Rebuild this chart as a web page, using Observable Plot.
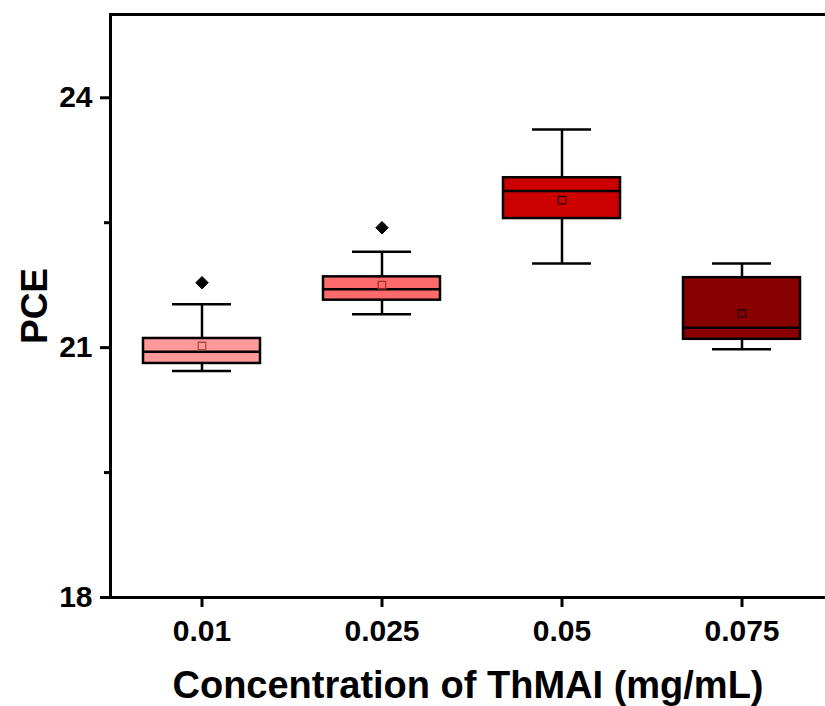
<!DOCTYPE html>
<html>
<head>
<meta charset="utf-8">
<script src="https://cdn.jsdelivr.net/npm/d3@7"></script>
<script src="https://cdn.jsdelivr.net/npm/@observablehq/plot@0.6"></script>
<style>
  html, body { margin: 0; padding: 0; background: #fff; }
  svg { font-family: "Liberation Sans", Arial, sans-serif; }
</style>
</head>
<body>
<div id="chart"></div>
<script>
const categories = ["0.01", "0.025", "0.05", "0.075"];
const lowerWhisker = [20.72, 21.40, 22.01, 20.98];
const q1 = [20.81, 21.57, 22.55, 21.10];
const median = [20.95, 21.70, 22.88, 21.24];
const q3 = [21.11, 21.85, 23.04, 21.84];
const upperWhisker = [21.52, 22.15, 23.62, 22.01];
const mean = [21.02, 21.75, 22.77, 21.41];
const outlierCategories = ["0.01", "0.025"];
const outlierValues = [21.78, 22.44];
const fills = ["#FF9999", "#FF6B6B", "#CC0000", "#880000"];
const meanStrokes = ["#B04848", "#A83030", "#3a0000", "#2a0000"];
const yMajorTicks = [18, 21, 24];
const yMinorTicks = [19.5, 22.5];
const xTitle = "Concentration of ThMAI (mg/mL)";
const yTitle = "PCE";

const boxes = categories.map((c, i) => ({
  cat: c, lo: lowerWhisker[i], q1: q1[i], med: median[i], q3: q3[i],
  hi: upperWhisker[i], mean: mean[i], fill: fills[i], meanStroke: meanStrokes[i]
}));
const outliers = outlierCategories.map((c, i) => ({cat: c, v: outlierValues[i]}));

const chart = Plot.plot({
  width: 825,
  height: 706,
  marginLeft: 110,
  marginRight: 0,
  marginTop: 14,
  marginBottom: 109,
  style: {fontFamily: '"Liberation Sans", Arial, sans-serif', background: "#fff"},
  x: {type: "band", domain: categories, range: [111, 831], paddingInner: 0.35, paddingOuter: 0.175},
  y: {domain: [18, 25]},
  marks: [
    Plot.ruleX(boxes, {x: "cat", y1: "q3", y2: "hi", stroke: "#000", strokeWidth: 2.5}),
    Plot.ruleX(boxes, {x: "cat", y1: "lo", y2: "q1", stroke: "#000", strokeWidth: 2.5}),
    Plot.tickY(boxes, {x: "cat", y: "hi", stroke: "#000", strokeWidth: 2.5, insetLeft: 29, insetRight: 29}),
    Plot.tickY(boxes, {x: "cat", y: "lo", stroke: "#000", strokeWidth: 2.5, insetLeft: 29, insetRight: 29}),
    Plot.barY(boxes, {x: "cat", y1: "q1", y2: "q3", fill: (d) => d.fill, stroke: "#000", strokeWidth: 2.5}),
    Plot.tickY(boxes, {x: "cat", y: "med", stroke: "#000", strokeWidth: 2.5}),
    Plot.dot(boxes, {x: "cat", y: "mean", symbol: "square", r: 4.2, fill: "none", stroke: (d) => d.meanStroke, strokeWidth: 1.3}),
    Plot.dot(outliers, {x: "cat", y: "v", symbol: "diamond2", r: 5.6, fill: "#000", stroke: "#000", strokeWidth: 1}),
    Plot.ruleY([18, 25], {stroke: "#000", strokeWidth: 3}),
    Plot.frame({anchor: "left", stroke: "#000", strokeWidth: 3}),
    Plot.axisY({ticks: yMajorTicks, tickSize: 10, tickPadding: 8, strokeWidth: 3,
      fontSize: 30, fontWeight: "bold", fill: "#000", label: null, tickFormat: (d) => String(d)}),
    Plot.axisY({ticks: yMinorTicks, tickSize: 6, strokeWidth: 3, text: null, label: null}),
    Plot.axisX({tickSize: 10, tickPadding: 12, strokeWidth: 3, fontSize: 30, fontWeight: "bold", fill: "#000", label: null}),
    Plot.text([xTitle], {frameAnchor: "bottom", dy: 100, fontSize: 38, fontWeight: "bold", fill: "#000"}),
    Plot.text([yTitle], {frameAnchor: "left", dx: -75, rotate: -90, textAnchor: "middle", fontSize: 37, fontWeight: "bold", fill: "#000"})
  ]
});
document.getElementById("chart").append(chart);
</script>
</body>
</html>
